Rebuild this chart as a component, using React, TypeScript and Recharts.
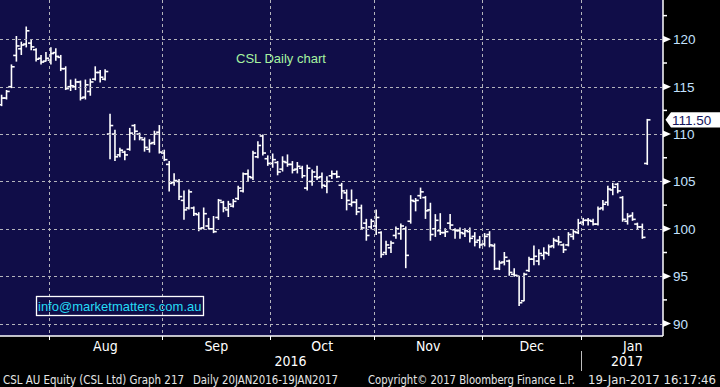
import React from "react";
import { ComposedChart, Bar, XAxis, YAxis } from "recharts";

// trading days shown per month (Jul and Jan are partial)
const months = ["Jul", "Aug", "Sep", "Oct", "Nov", "Dec", "Jan"];
const barsPerMonth = [10, 23, 22, 21, 22, 20, 14];
const years = ["2016", "2017"];

const opens = [
  113.1, 113.8, 115.0, 118.3, 119.0, 119.5, 119.6, 118.9, 118.0, 117.7,
  117.8, 118.6, 118.1, 116.9, 115.0, 115.0, 115.5, 113.9, 114.5, 115.8,
  116.5, 115.8, 110.0, 110.0, 107.8, 108.1, 108.4, 110.9, 110.0, 109.4,
  108.4, 109.1, 110.2, 108.0, 106.8, 104.9, 105.0, 103.0, 102.2, 102.2,
  101.5, 100.1, 100.3, 100.0, 101.2, 102.8, 102.0, 102.4, 103.2, 104.0,
  105.8, 105.4, 107.6, 109.8, 107.4, 106.9, 107.0, 106.3, 107.0, 106.8,
  106.3, 106.4, 104.3, 105.0, 105.5, 105.5, 104.5, 105.6, 105.8, 104.6,
  103.8, 102.6, 102.8, 102.2, 100.6, 100.2, 100.3, 99.6, 97.5, 98.0,
  99.3, 99.5, 100.0, 100.8, 102.9, 103.5, 103.3, 102.0, 100.0, 99.8,
  99.6, 100.6, 99.9, 99.8, 99.5, 99.7, 99.2, 98.8, 98.4, 99.4,
  98.2, 95.8, 96.5, 96.6, 95.2, 95.0, 92.4, 95.6, 96.8, 96.6,
  97.2, 97.4, 98.2, 98.7, 98.3, 98.3, 99.2, 99.6, 100.7, 100.9,
  100.8, 100.5, 102.2, 102.8, 104.1, 104.7, 103.3, 100.8, 101.4, 100.5,
  100.2, 106.9,
];
const highs = [
  114.1, 114.6, 117.3, 120.3, 119.7, 121.3, 119.9, 119.0, 118.3, 118.6,
  119.1, 119.0, 118.3, 117.1, 115.7, 115.8, 115.6, 115.7, 115.8, 117.1,
  116.7, 116.8, 112.1, 110.4, 108.5, 108.2, 110.6, 111.0, 110.1, 109.6,
  109.4, 110.3, 110.9, 108.3, 107.1, 105.8, 105.2, 104.0, 104.1, 102.3,
  101.7, 102.2, 101.1, 101.3, 103.1, 102.9, 102.9, 103.1, 104.5, 105.9,
  106.2, 108.2, 109.2, 109.9, 107.7, 107.9, 107.1, 107.6, 107.8, 107.1,
  107.0, 106.6, 106.7, 106.2, 106.6, 105.9, 105.5, 106.1, 106.1, 104.8,
  104.1, 104.1, 103.1, 102.5, 101.0, 101.0, 102.0, 99.7, 98.7, 98.7,
  100.2, 100.5, 100.2, 103.5, 103.2, 104.3, 103.4, 102.7, 101.5, 101.6,
  100.0, 101.5, 100.0, 100.1, 100.0, 100.1, 99.6, 99.2, 99.5, 99.7,
  98.4, 96.6, 97.5, 96.7, 95.8, 95.0, 95.3, 97.0, 98.2, 97.8,
  98.0, 98.3, 99.0, 99.2, 98.4, 99.6, 99.9, 101.0, 101.1, 101.1,
  101.0, 102.3, 103.0, 104.5, 104.8, 104.8, 103.4, 101.6, 101.7, 100.6,
  100.5, 111.55,
];
const lows = [
  113.0, 113.7, 114.9, 117.7, 118.4, 119.2, 118.9, 117.7, 117.4, 117.7,
  117.4, 117.8, 116.7, 114.7, 114.6, 114.7, 113.6, 113.7, 114.1, 115.7,
  115.5, 115.7, 107.4, 107.2, 107.6, 107.3, 108.3, 109.4, 109.4, 108.2,
  108.1, 108.9, 108.0, 107.2, 104.0, 104.6, 103.1, 101.0, 102.1, 101.4,
  99.8, 100.0, 100.0, 99.6, 101.0, 101.8, 101.3, 102.3, 103.1, 103.9,
  105.1, 105.2, 107.5, 107.8, 106.7, 106.5, 105.7, 106.1, 106.6, 105.9,
  105.9, 105.4, 104.1, 104.6, 105.2, 104.3, 103.8, 105.3, 105.4, 103.2,
  102.0, 102.4, 101.5, 100.0, 98.8, 100.0, 99.4, 97.0, 97.3, 97.5,
  99.0, 98.9, 95.9, 100.6, 101.9, 103.2, 101.1, 98.8, 99.2, 99.4,
  99.2, 100.0, 99.0, 99.0, 99.2, 98.6, 98.2, 98.0, 98.2, 98.1,
  95.7, 95.7, 96.2, 95.1, 95.0, 91.9, 92.4, 95.5, 96.2, 96.2,
  96.8, 97.2, 98.0, 98.3, 97.5, 98.2, 98.9, 99.5, 100.4, 100.4,
  100.4, 100.4, 102.0, 102.5, 103.6, 103.8, 100.8, 100.5, 100.9, 100.0,
  99.0, 106.8,
];
const closes = [
  113.8, 114.5, 117.1, 119.3, 119.4, 120.9, 119.2, 117.9, 117.6, 118.0,
  118.5, 118.2, 116.9, 114.8, 115.1, 115.5, 113.8, 115.2, 115.5, 116.5,
  116.0, 116.6, 110.9, 107.6, 108.3, 107.8, 110.1, 110.3, 109.6, 108.6,
  109.0, 110.0, 108.1, 107.3, 104.8, 105.1, 103.4, 102.0, 103.9, 101.6,
  100.0, 101.6, 100.0, 99.7, 103.0, 102.2, 102.6, 102.9, 104.3, 105.8,
  105.5, 108.0, 108.8, 108.0, 106.9, 107.3, 106.0, 107.1, 106.8, 106.2,
  106.6, 105.6, 106.4, 106.0, 105.4, 104.6, 105.0, 105.8, 105.5, 104.0,
  103.0, 102.8, 101.8, 100.1, 99.3, 100.8, 101.2, 97.3, 98.3, 98.5,
  100.0, 100.3, 97.2, 103.0, 103.0, 103.9, 101.9, 99.4, 100.9, 99.6,
  99.7, 100.4, 99.8, 99.6, 99.8, 99.0, 98.6, 98.3, 99.2, 98.3,
  95.8, 96.4, 97.0, 95.4, 95.1, 92.2, 95.2, 96.8, 97.1, 97.4,
  97.5, 98.1, 98.8, 98.6, 97.8, 99.4, 99.7, 100.6, 100.9, 100.9,
  100.5, 102.1, 102.6, 104.2, 104.4, 104.0, 101.0, 101.3, 101.0, 100.2,
  99.1, 111.5,
];

const lastPrice = 111.5;
const priceGrid = [90, 95, 100, 105, 110, 115, 120];
const minorTicks = [92.5, 97.5, 102.5, 107.5, 112.5, 117.5, 122.5];

const X_DOMAIN: [number, number] = [-0.375, 134.14];
const Y_DOMAIN: [number, number] = [88.69, 124.15];
const FULL_MONTH = 21;

const BG = "#100d48";
const GRID = "#b4b4bc";

const data = opens.map((o, i) => ({
  idx: i,
  open: o,
  high: highs[i],
  low: lows[i],
  close: closes[i],
  range: [lows[i], highs[i]],
}));

// month edges sit between last bar of a month and first bar of the next
const edges: number[] = [];
let acc = 0;
barsPerMonth.forEach((n, i) => {
  if (i > 0) edges.push(acc - 0.5);
  acc += n;
});

type TickInfo = { kind: "edge" | "month" | "year"; label?: string; split?: boolean };
const xTickInfo = new Map<number, TickInfo>();
edges.forEach((e, i) => xTickInfo.set(e, { kind: "edge", split: i === edges.length - 1 }));
months.forEach((m, i) => {
  if (i === 0) return; // partial July has no label
  const pos = i < edges.length ? (edges[i - 1] + edges[i]) / 2 : edges[i - 1] + FULL_MONTH / 2;
  xTickInfo.set(pos, { kind: "month", label: m });
});
const yearEdge = edges[edges.length - 1];
xTickInfo.set((X_DOMAIN[0] + yearEdge) / 2, { kind: "year", label: years[0] });
xTickInfo.set((yearEdge + X_DOMAIN[1]) / 2 + 1, { kind: "year", label: years[1] });
const xTicks = Array.from(xTickInfo.keys()).sort((a, b) => a - b);

const yTicks = [...priceGrid, ...minorTicks, lastPrice].sort((a, b) => a - b);

const NARROW = "'Liberation Sans Narrow', 'DejaVu Sans Condensed', sans-serif";
const SANS = "'Liberation Sans', Arial, sans-serif";

// snap to a pixel centre so 1px grid lines stay crisp
const snap = (v: number) => Math.round(v) + 0.5;

// dashed grid built from short segments
function dashPath(horizontal: boolean, fixed: number, from: number, to: number) {
  let d = "";
  for (let p = from; p < to; p += 6) {
    const end = Math.min(p + 3, to);
    d += horizontal ? `M${p},${fixed}H${end}` : `M${fixed},${p}V${end}`;
  }
  return d;
}

function OhlcBar(props: any) {
  const { x, y, width, height, payload } = props;
  if (!payload || x == null) return null;
  const cx = x + width / 2;
  const top = Math.min(y, y + height);
  const h = Math.abs(height);
  const span = payload.high - payload.low;
  const at = (v: number) => top + (span === 0 ? 0 : ((payload.high - v) / span) * h);
  return (
    <g stroke="#ffffff" strokeWidth={1.6}>
      <line x1={cx} x2={cx} y1={top - 0.5} y2={top + h + 0.5} />
      <line x1={cx - 3.2} x2={cx} y1={at(payload.open)} y2={at(payload.open)} />
      <line x1={cx} x2={cx + 3.2} y1={at(payload.close)} y2={at(payload.close)} />
    </g>
  );
}

// x ticks: month edges carry the vertical dashed grid line
function XTick(props: any) {
  const { x, y, payload } = props;
  const info = xTickInfo.get(payload.value);
  if (!info) return null;
  if (info.kind === "edge") {
    const sx = snap(x);
    return (
      <g>
        <path d={dashPath(false, sx, 0, y - 1)} stroke={GRID} strokeWidth={1} fill="none" />
        <path d={`M${sx},${y} V${y + 4}`} stroke="#ffffff" strokeWidth={1} fill="none" />
        {info.split && <path d={`M${sx},${y + 15} V${y + 35}`} stroke="#bdbdbd" strokeWidth={1} fill="none" />}
      </g>
    );
  }
  return (
    <text
      x={x}
      y={info.kind === "month" ? y + 15 : y + 30}
      textAnchor="middle"
      fill="#ffffff"
      fontSize={14}
      fontFamily={NARROW}
    >
      {info.label}
    </text>
  );
}

// y ticks: majors carry the horizontal dashed grid line
function YTick(props: any) {
  const { x, y, payload } = props;
  const v = payload.value;
  if (v === lastPrice) {
    return (
      <g>
        <path d={`M${x + 2.5},${y} L${x + 8},${y - 7.7} H720 V${y + 7.7} H${x + 8} Z`} fill="#ffffff" />
        <text x={x + 9} y={y + 5} fill="#14145a" fontSize={13.5} fontFamily={SANS}>
          {v.toFixed(2)}
        </text>
      </g>
    );
  }
  if (v % 5 !== 0) {
    return <line x1={x} x2={x + 4} y1={y} y2={y} stroke="#ffffff" strokeWidth={1.5} />;
  }
  const sy = snap(y);
  return (
    <g>
      <path d={dashPath(true, sy, 0, x - 1)} stroke={GRID} strokeWidth={1} fill="none" />
      <path d={`M${x},${y - 3.5} L${x + 8},${y} L${x},${y + 3.5} Z`} fill="#ffffff" />
      <text x={x + 10} y={y + 5} fill="#c4e2ff" fontSize={13.5} fontFamily={SANS}>
        {v}
      </text>
    </g>
  );
}

export default function App() {
  return (
    <div style={{ position: "absolute", left: 0, top: 0, width: 720, height: 387, background: "#000", overflow: "hidden" }}>
      <div style={{ position: "absolute", left: 0, top: 0, width: 663, height: 336, background: BG }} />
      <div style={{ position: "absolute", left: 0, top: 0 }}>
        <ComposedChart width={720} height={387} data={data} margin={{ top: 0, right: 0, left: 0, bottom: 0 }}>
          <XAxis
            dataKey="idx"
            type="number"
            domain={X_DOMAIN}
            allowDataOverflow
            ticks={xTicks}
            interval={0}
            tick={<XTick />}
            tickLine={false}
            tickSize={0}
            tickMargin={0}
            axisLine={{ stroke: "#ffffff", strokeWidth: 1.5 }}
            height={51}
          />
          <YAxis
            orientation="right"
            type="number"
            domain={Y_DOMAIN}
            allowDataOverflow
            ticks={yTicks}
            interval={0}
            tick={<YTick />}
            tickLine={false}
            tickSize={0}
            tickMargin={0}
            axisLine={{ stroke: "#ffffff", strokeWidth: 1.5 }}
            width={57}
          />
          <Bar dataKey="range" barSize={5} shape={<OhlcBar />} isAnimationActive={false} />
        </ComposedChart>
      </div>
      <svg width={720} height={387} style={{ position: "absolute", left: 0, top: 0, pointerEvents: "none" }}>
        <text x={236} y={62.5} fill="#a6f2a0" fontSize={13} fontFamily={SANS}>
          CSL Daily chart
        </text>
        <rect x={36.5} y={296.5} width={167} height={19} fill="none" stroke="#ffffff" strokeWidth={1.3} />
        <text x={38} y={311.3} fill="#25dbf5" fontSize={13} fontFamily={SANS}>
          info@marketmatters.com.au
        </text>
        <g fill="#e6e6e6" fontSize={12} fontFamily={NARROW}>
          <text x={3} y={384} textLength={181} lengthAdjust="spacingAndGlyphs">CSL AU Equity (CSL Ltd) Graph 217</text>
          <text x={193} y={384} textLength={145} lengthAdjust="spacingAndGlyphs">Daily 20JAN2016-19JAN2017</text>
          <text x={368} y={384} textLength={207} lengthAdjust="spacingAndGlyphs">Copyright© 2017 Bloomberg Finance L.P.</text>
          <text x={588} y={384} textLength={128} lengthAdjust="spacingAndGlyphs">19-Jan-2017 16:17:46</text>
        </g>
      </svg>
    </div>
  );
}
